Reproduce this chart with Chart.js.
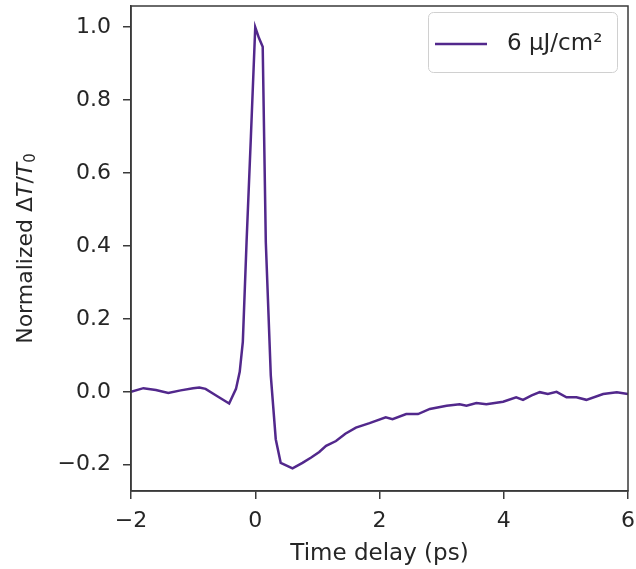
<!DOCTYPE html>
<html>
<head>
<meta charset="utf-8">
<script src="https://cdn.jsdelivr.net/npm/chart.js@4/dist/chart.umd.min.js"></script>
<style>
  html, body { margin: 0; padding: 0; background: #fff; }
  #wrap { width: 636px; height: 569px; }
</style>
</head>
<body>
<div id="wrap"><canvas id="myChart" width="636" height="569"></canvas></div>
<script>
// Time delay (ps) and normalized dT/T0
const times = [-2.0, -1.8, -1.6, -1.4, -1.2, -1.0, -0.9, -0.8, -0.63, -0.42, -0.31, -0.25, -0.2, -0.14, -0.07,
    0.0, 0.06, 0.12, 0.17, 0.25, 0.33, 0.41, 0.6, 0.76, 0.9, 1.03, 1.14, 1.3, 1.45, 1.62, 1.84,
    2.1, 2.21, 2.43, 2.62, 2.81, 3.08, 3.29, 3.4, 3.56, 3.72, 3.99, 4.2, 4.31, 4.45, 4.58, 4.71,
    4.85, 5.01, 5.17, 5.33, 5.6, 5.82, 6.0];
const signal = [0.0, 0.01, 0.005, -0.003, 0.004, 0.01, 0.012, 0.008, -0.01, -0.032, 0.008, 0.055, 0.137, 0.41, 0.70,
    1.0, 0.97, 0.946, 0.41, 0.045, -0.13, -0.195, -0.21, -0.195, -0.18, -0.165, -0.148, -0.135, -0.115, -0.098, -0.086,
    -0.07, -0.075, -0.061, -0.061, -0.047, -0.038, -0.034, -0.038, -0.031, -0.034, -0.027, -0.015, -0.022, -0.01, -0.001, -0.006,
    0.0, -0.015, -0.015, -0.022, -0.006, -0.001, -0.006];
const seriesLabel = '6 μJ/cm²';
const xTicks = [-2, 0, 2, 4, 6];
const yTicks = [-0.2, 0.0, 0.2, 0.4, 0.6, 0.8, 1.0];

const lineColor = '#52288c';
const axisColor = '#3a3a3a';
const textColor = '#262626';
const fontFamily = '"DejaVu Sans", sans-serif';

function fmt(v, digits) {
    const s = Math.abs(v).toFixed(digits);
    return v < 0 ? '\u2212' + s : s;
}

// top/right spines, legend box and the mathtext-like y title
const extras = {
    id: 'extras',
    afterDraw(chart) {
        const ctx = chart.ctx;
        const a = chart.chartArea;
        ctx.save();
        ctx.strokeStyle = axisColor;
        ctx.lineWidth = 1.5;
        ctx.strokeRect(a.left, a.top, a.right - a.left, a.bottom - a.top);

        // legend
        const lx = 428.5, ly = 12.5, lw = 189, lh = 60, r = 5;
        ctx.beginPath();
        ctx.roundRect(lx, ly, lw, lh, r);
        ctx.fillStyle = 'rgba(255,255,255,0.8)';
        ctx.fill();
        ctx.strokeStyle = '#d0d0d0';
        ctx.lineWidth = 1;
        ctx.stroke();
        ctx.beginPath();
        ctx.moveTo(435, 44);
        ctx.lineTo(487, 44);
        ctx.strokeStyle = chart.data.datasets[0].borderColor;
        ctx.lineWidth = 2.5;
        ctx.stroke();
        ctx.fillStyle = textColor;
        ctx.font = '23px ' + fontFamily;
        ctx.textBaseline = 'middle';
        ctx.textAlign = 'left';
        ctx.fillText(chart.data.datasets[0].label, 507, 44);

        // y title
        const parts = [
            { t: 'Normalized ', f: '22px ' + fontFamily, dy: 0 },
            { t: 'Δ', f: '22px ' + fontFamily, dy: 0 },
            { t: 'T', f: 'italic 22px ' + fontFamily, dy: 0 },
            { t: '/', f: '22px ' + fontFamily, dy: 0 },
            { t: 'T', f: 'italic 22px ' + fontFamily, dy: 0 },
            { t: '0', f: '15px ' + fontFamily, dy: 5 }
        ];
        let total = 0;
        parts.forEach(p => { ctx.font = p.f; p.w = ctx.measureText(p.t).width; total += p.w; });
        ctx.translate(26, (a.top + a.bottom) / 2);
        ctx.rotate(-Math.PI / 2);
        let x = -total / 2;
        ctx.textBaseline = 'middle';
        parts.forEach(p => {
            ctx.font = p.f;
            ctx.fillText(p.t, x, p.dy);
            x += p.w;
        });
        ctx.restore();
    }
};

const data = {
    datasets: [{
        label: seriesLabel,
        data: times.map((t, i) => ({ x: t, y: signal[i] })),
        borderColor: lineColor,
        backgroundColor: lineColor,
        borderWidth: 2.5,
        pointRadius: 0,
        tension: 0,
        fill: false
    }]
};

const config = {
    type: 'line',
    data: data,
    options: {
        responsive: false,
        animation: false,
        layout: { padding: { left: 0, right: 8, top: 6, bottom: 0 } },
        plugins: {
            legend: { display: false },
            tooltip: { enabled: false }
        },
        scales: {
            x: {
                type: 'linear',
                min: -2,
                max: 6,
                afterBuildTicks: s => { s.ticks = xTicks.map(v => ({ value: v })); },
                afterFit: s => { s.height = 78; s.paddingLeft = 0; s.paddingRight = 0; },
                grid: { drawOnChartArea: false, color: axisColor, tickLength: 8, lineWidth: 1.5 },
                border: { color: axisColor, width: 1.5 },
                ticks: {
                    color: textColor,
                    font: { family: fontFamily, size: 22 },
                    padding: 9,
                    maxRotation: 0,
                    callback: v => fmt(v, 0)
                },
                title: {
                    display: true,
                    text: 'Time delay (ps)',
                    color: textColor,
                    font: { family: fontFamily, size: 23 },
                    padding: { top: 2, bottom: 1 }
                }
            },
            y: {
                min: -0.272,
                max: 1.058,
                afterBuildTicks: s => { s.ticks = yTicks.map(v => ({ value: v })); },
                afterFit: s => { s.width = 131; s.paddingTop = 0; s.paddingBottom = 0; },
                grid: { drawOnChartArea: false, color: axisColor, tickLength: 8, lineWidth: 1.5 },
                border: { color: axisColor, width: 1.5 },
                ticks: {
                    color: textColor,
                    font: { family: fontFamily, size: 22 },
                    padding: 12,
                    callback: v => fmt(v, 1)
                }
            }
        }
    },
    plugins: [extras]
};

const myChart = new Chart(document.getElementById('myChart'), config);
</script>
</body>
</html>
